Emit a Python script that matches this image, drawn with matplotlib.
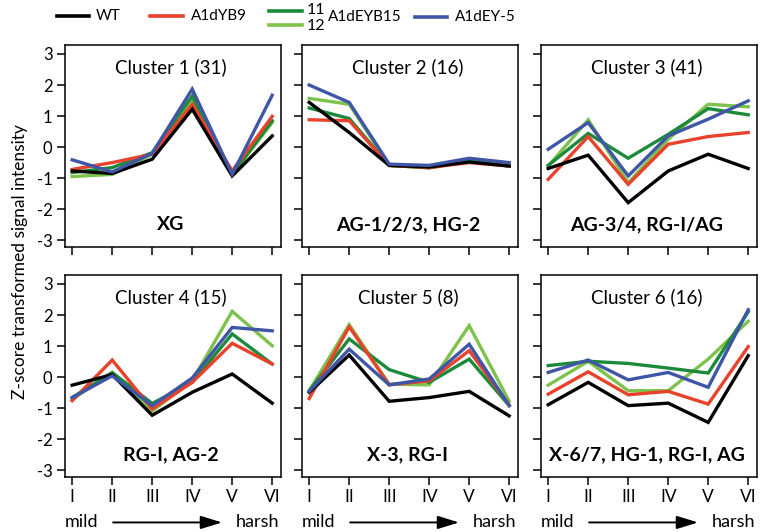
import matplotlib
matplotlib.use("Agg")
import matplotlib.pyplot as plt
from matplotlib.lines import Line2D

plt.rcParams['font.family'] = ['Lato', 'DejaVu Sans']

# stages along the gradient
stages = ['I', 'II', 'III', 'IV', 'V', 'VI']
xpos = [1, 2, 3, 4, 5, 6]

lines = ['WT', 'A1dYB9', 'A1dEYB15_11', 'A1dEYB15_12', 'A1dEY-5']
colors = {'WT': 'black', 'A1dYB9': '#e8412c', 'A1dEYB15_11': '#1b8a3a',
          'A1dEYB15_12': '#7dc24b', 'A1dEY-5': '#3f56a6'}
draw_order = ['A1dEYB15_12', 'A1dEYB15_11', 'A1dYB9', 'WT', 'A1dEY-5']

titles = ['Cluster 1 (31)', 'Cluster 2 (16)', 'Cluster 3 (41)',
          'Cluster 4 (15)', 'Cluster 5 (8)', 'Cluster 6 (16)']
groups = ['XG', 'AG-1/2/3, HG-2', 'AG-3/4, RG-I/AG',
          'RG-I, AG-2', 'X-3, RG-I', 'X-6/7, HG-1, RG-I, AG']

wt = [
    [-0.77, -0.85, -0.39, 1.22, -0.93, 0.36],
    [1.44, 0.47, -0.59, -0.64, -0.48, -0.61],
    [-0.69, -0.26, -1.79, -0.77, -0.23, -0.69],
    [-0.26, 0.08, -1.23, -0.49, 0.10, -0.84],
    [-0.49, 0.71, -0.78, -0.66, -0.46, -1.25],
    [-0.89, -0.17, -0.92, -0.84, -1.46, 0.69],
]
yb9 = [
    [-0.72, -0.50, -0.23, 1.38, -0.77, 0.99],
    [0.88, 0.85, -0.59, -0.66, -0.50, -0.61],
    [-1.04, 0.34, -1.20, 0.09, 0.34, 0.47],
    [-0.76, 0.55, -1.03, -0.17, 1.09, 0.42],
    [-0.69, 1.62, -0.25, -0.12, 0.85, -0.90],
    [-0.55, 0.17, -0.57, -0.46, -0.87, 0.98],
]
eyb15_11 = [
    [-0.82, -0.66, -0.18, 1.65, -0.88, 0.85],
    [1.26, 0.92, -0.59, -0.67, -0.45, -0.61],
    [-0.59, 0.44, -0.36, 0.41, 1.24, 1.04],
    [-0.66, 0.15, -0.85, -0.17, 1.39, 0.42],
    [-0.44, 1.23, 0.24, -0.17, 0.58, -0.92],
    [0.37, 0.51, 0.44, 0.29, 0.13, 2.10],
]
eyb15_12 = [
    [-0.95, -0.88, -0.23, 1.55, -0.88, 0.79],
    [1.57, 1.38, -0.59, -0.66, -0.45, -0.59],
    [-0.61, 0.88, -1.15, 0.25, 1.38, 1.30],
    [-0.71, 0.12, -1.09, -0.12, 2.12, 1.01],
    [-0.44, 1.69, -0.23, -0.25, 1.66, -0.78],
    [-0.26, 0.51, -0.44, -0.44, 0.58, 1.80],
]
ey5 = [
    [-0.41, -0.80, -0.20, 1.87, -0.88, 1.67],
    [2.00, 1.44, -0.55, -0.59, -0.36, -0.50],
    [-0.07, 0.79, -0.93, 0.36, 0.90, 1.49],
    [-0.66, 0.04, -0.92, -0.03, 1.60, 1.49],
    [-0.46, 0.90, -0.25, -0.06, 1.06, -0.92],
    [0.15, 0.55, -0.09, 0.15, -0.33, 2.17],
]
series = {'WT': wt, 'A1dYB9': yb9, 'A1dEYB15_11': eyb15_11,
          'A1dEYB15_12': eyb15_12, 'A1dEY-5': ey5}

W, H = 760, 532
fig = plt.figure(figsize=(W / 100, H / 100), dpi=100)

col_left = [65, 302, 541]
row_top = [45, 275]
aw, ah = 216, 202

for k in range(6):
    r, c = divmod(k, 3)
    left = col_left[c] / W
    bottom = 1 - (row_top[r] + ah) / H
    ax = fig.add_axes([left, bottom, aw / W, ah / H])
    for name in draw_order:
        ax.plot(xpos, series[name][k], color=colors[name], lw=2.4,
                solid_joinstyle='miter', zorder=3)
    ax.set_xlim(0.82, 6.22)
    ax.set_ylim(-3.22, 3.29)
    ax.set_yticks([-3, -2, -1, 0, 1, 2, 3])
    ax.set_xticks(xpos)
    for s in ax.spines.values():
        s.set_linewidth(1.1)
    ax.tick_params(direction='out', length=6, width=1.1, pad=3)
    ax.tick_params(axis='y', labelsize=12)
    ax.tick_params(axis='x', labelsize=12.5)
    if c == 0:
        ax.set_yticklabels([str(v) for v in [-3, -2, -1, 0, 1, 2, 3]])
    else:
        ax.set_yticklabels([])
    if r == 1:
        ax.set_xticklabels(stages)
        ax.text(0.0, -0.225, 'mild', transform=ax.transAxes, fontsize=13,
                ha='left', va='center')
        ax.text(0.99, -0.225, 'harsh', transform=ax.transAxes, fontsize=13,
                ha='right', va='center')
        ax.annotate('', xy=(0.74, -0.225), xytext=(0.21, -0.225),
                    xycoords='axes fraction', textcoords='axes fraction',
                    arrowprops=dict(arrowstyle='-|>,head_length=1.3,head_width=0.4',
                                    color='black', lw=1.4))
    else:
        ax.set_xticklabels([])
    ax.text(0.49, 0.89, titles[k], transform=ax.transAxes, fontsize=13.5,
            ha='center', va='center')
    ax.text(0.49, 0.11, groups[k], transform=ax.transAxes, fontsize=14,
            fontweight='bold', ha='center', va='center')

fig.text(20 / W, 1 - 262 / H, 'Z-score transformed signal intensity',
         rotation=90, ha='center', va='center', fontsize=12.5)

# legend drawn by hand (two green lines share one label)
def leg_line(x0, x1, y, color):
    fig.add_artist(Line2D([x0 / W, x1 / W], [1 - y / H, 1 - y / H],
                          transform=fig.transFigure, color=color, lw=2.6))

def leg_text(x, y, s, size=11):
    fig.text(x / W, 1 - y / H, s, ha='left', va='center', fontsize=size)

leg_line(57, 89, 16, colors['WT'])
leg_text(96, 16, 'WT')
leg_line(150, 183, 16, colors['A1dYB9'])
leg_text(191, 16, 'A1dYB9')
leg_line(269, 302, 11, colors['A1dEYB15_11'])
leg_line(269, 302, 25, colors['A1dEYB15_12'])
leg_text(307, 10, '11', 11.5)
leg_text(307, 26, '12', 11.5)
leg_text(328, 17, 'A1dEYB15')
leg_line(415, 447, 17, colors['A1dEY-5'])
leg_text(455, 17, 'A1dEY-5')

fig.savefig('out.png', dpi=100)
